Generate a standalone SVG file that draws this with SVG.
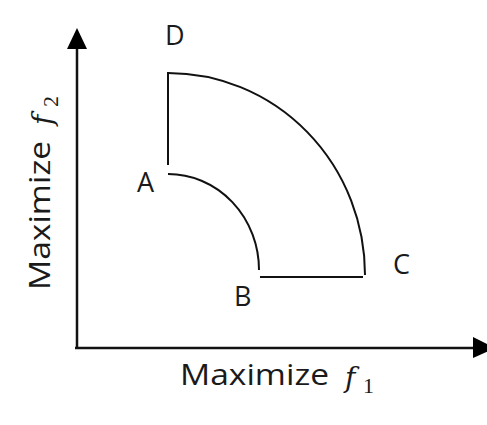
<svg xmlns="http://www.w3.org/2000/svg" width="487" height="425" viewBox="0 0 487 425">
  <defs>
    <style>
      .ax { stroke:#111; stroke-width:2.5; fill:none; }
      .ln { stroke:#111; stroke-width:2; fill:none; }
      .lbl { font-family:"Open Sans","Liberation Sans",sans-serif; font-size:29px; fill:#1a1a1a; }
      .pt { font-family:"Open Sans","Liberation Sans",sans-serif; font-size:27px; fill:#1a1a1a; }
      .fi { font-family:"DejaVu Serif","Liberation Serif",serif; font-style:italic; font-size:28px; fill:#1a1a1a; }
      .sub { font-family:"Liberation Serif",serif; font-size:22px; fill:#1a1a1a; }
    </style>
  </defs>
  <rect width="487" height="425" fill="#fff"/>
  <g id="connectors">
    <g id="y-axis">
      <path class="ax" d="M77,349 V46"/>
      <polygon points="77,28 67,49 87,49" fill="#000"/>
    </g>
    <g id="x-axis">
      <path class="ax" d="M75,348 H476"/>
      <polygon points="495,348 473,337 473,358" fill="#000"/>
    </g>
    <path id="DA" class="ln" d="M168,72 V165"/>
    <path id="DC" class="ln" d="M168,73 A197,202 0 0 1 365,275"/>
    <path id="AB" class="ln" d="M168,174 A91,96 0 0 1 259,270"/>
    <path id="BC" class="ln" d="M260,277 H363"/>
  </g>
  <g id="node-D"><text class="pt" x="165" y="45">D</text></g>
  <g id="node-A"><text class="pt" x="137" y="192">A</text></g>
  <g id="node-B"><text class="pt" x="234" y="306">B</text></g>
  <g id="node-C"><text class="pt" x="393" y="274">C</text></g>
  <g id="x-label">
    <text class="lbl" x="180" y="385" textLength="149" lengthAdjust="spacingAndGlyphs">Maximize</text>
    <text class="fi" x="345" y="387">f</text>
    <text class="sub" x="363" y="393">1</text>
  </g>
  <g id="y-label" transform="translate(50,290) rotate(-90)">
    <text class="lbl" x="0" y="0" textLength="149" lengthAdjust="spacingAndGlyphs">Maximize</text>
    <text class="fi" x="165" y="2">f</text>
    <text class="sub" x="183" y="8">2</text>
  </g>
</svg>
